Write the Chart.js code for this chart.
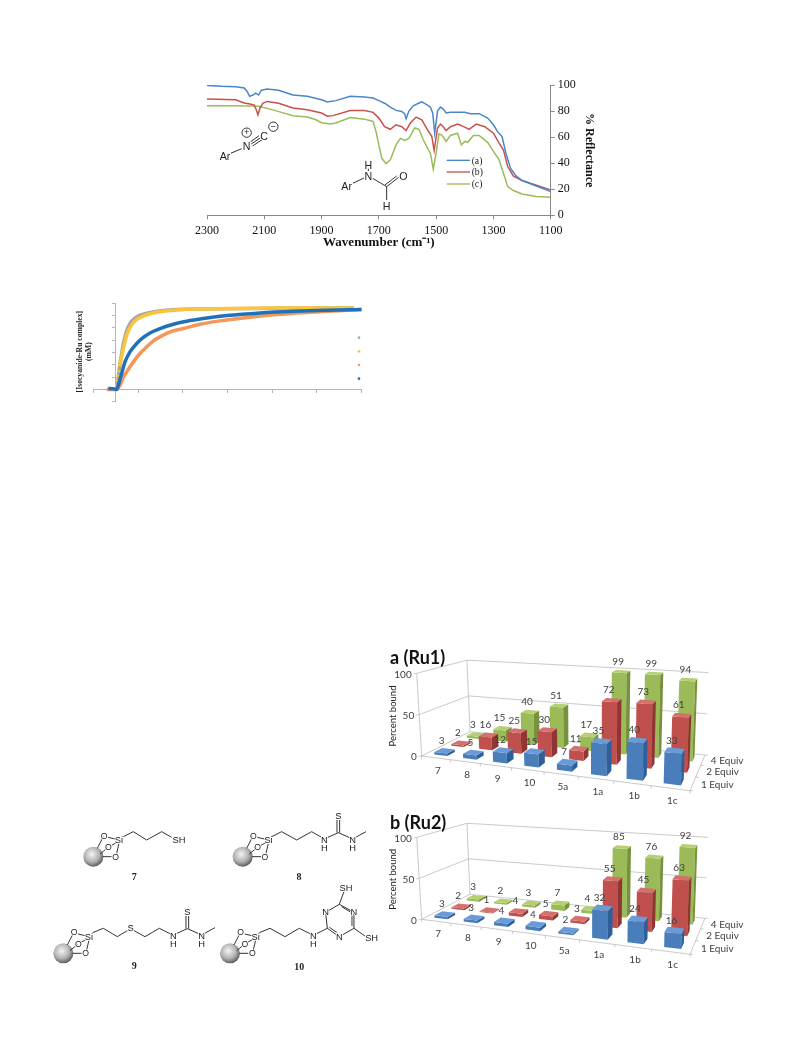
<!DOCTYPE html>
<html lang="en">
<head>
  <meta charset="UTF-8">
  <title>Isocyanide scavenging figures</title>
  <script src="https://cdn.jsdelivr.net/npm/chart.js"></script>
  <style>
    body { margin: 0; background: #fff; }
    #page { position: relative; width: 793px; height: 1057px; overflow: hidden; }
    .box { position: absolute; }
    #art { position: absolute; left: 0; top: 0; pointer-events: none; }
    #art text { font-family: 'Liberation Sans', sans-serif; fill: #222; }
  </style>
</head>
<body>
<div id="page">
  <div class="box" style="left:190px;top:70px;width:420px;height:190px"><canvas id="irChart"></canvas></div>
  <div class="box" style="left:85px;top:295px;width:290px;height:115px"><canvas id="kineticsChart"></canvas></div>
  <div class="box" style="left:380px;top:640px;width:400px;height:170px"><canvas id="ru1Chart"></canvas></div>
  <div class="box" style="left:380px;top:805px;width:400px;height:170px"><canvas id="ru2Chart"></canvas></div>
  <svg id="art" width="793" height="1057"></svg>
</div>

<script>
  // IR spectra: [wavenumber, % reflectance]
  const irA = [[2300,99.7],[2250,99],[2200,98.7],[2170,97.7],[2160,95],[2151,91.3],[2140,92.3],[2130,93.8],[2120,92.3],[2110,96],[2090,97],[2050,96],[2000,92.3],[1950,91.3],[1900,88.7],[1880,87],[1850,88],[1800,91.3],[1750,90.8],[1720,90],[1700,88],[1680,86],[1660,83],[1640,80.5],[1620,79.7],[1610,78],[1605,74],[1595,80],[1580,84],[1560,86.2],[1550,87],[1530,84.6],[1520,83],[1512,78.5],[1505,63],[1495,80],[1485,83],[1475,81.5],[1465,78.5],[1450,79],[1400,79],[1380,78],[1350,78],[1320,74.6],[1300,69.5],[1285,64],[1270,60.5],[1255,46.4],[1240,36],[1220,30],[1200,26.7],[1150,22.5],[1100,18.2]];
  const irB = [[2300,89.2],[2200,88.7],[2170,86.2],[2150,85.4],[2135,84.6],[2128,81],[2122,77.2],[2115,82.3],[2105,86],[2090,87.4],[2050,86],[2000,82.3],[1950,81],[1900,78.5],[1880,76],[1860,76.5],[1800,80.5],[1750,80.5],[1720,79],[1700,74.6],[1680,68],[1660,66],[1640,69.5],[1620,68],[1605,65],[1590,70.8],[1570,75.4],[1550,73.3],[1530,65.6],[1515,60.5],[1507,49.7],[1495,67],[1485,70],[1475,68],[1465,65],[1450,68],[1425,70],[1400,67.7],[1385,66],[1360,70],[1330,68],[1300,63],[1280,55.4],[1265,50],[1250,37.4],[1230,30],[1200,26.7],[1150,23],[1100,19.5]];
  const irC = [[2300,84],[2200,84],[2120,83.6],[2080,81.5],[2040,79],[2000,76.4],[1950,75.4],[1920,73.3],[1900,71],[1870,70],[1850,70.8],[1800,75],[1750,73.8],[1720,72],[1710,64.4],[1700,54],[1690,43.8],[1675,39.7],[1660,42.5],[1640,54],[1625,59],[1610,57.4],[1595,59],[1575,67],[1560,66],[1545,58],[1530,51.5],[1520,47.7],[1510,35.4],[1500,47.7],[1490,62.5],[1480,61.5],[1465,56.7],[1450,61.3],[1425,63],[1412,54],[1400,56.7],[1390,56],[1370,61.3],[1350,61.3],[1320,56],[1300,49],[1280,42.5],[1265,32.3],[1250,22],[1230,19],[1200,16.4],[1150,14.4],[1100,13.8]];

  // kinetics traces: [time, concentration]
  const traceBlue = [[-164,0.08],[-52,0.05],[22,0],[60,0.35],[134,1.3],[209,2.24],[320,3.05],[470,3.73],[619,4.22],[768,4.59],[992,4.95],[1290,5.3],[1589,5.54],[1962,5.76],[2484,6],[3230,6.22],[3976,6.35],[4722,6.43],[5500,6.49]];
  const traceOrange = [[-200,0],[22,0],[97,0.35],[171,0.97],[246,1.43],[395,2.24],[544,2.92],[694,3.46],[843,3.95],[992,4.27],[1216,4.68],[1514,4.95],[1887,5.3],[2335,5.57],[2857,5.81],[3603,6.08],[4349,6.27],[4871,6.38],[5500,6.49]];
  const traceYellow = [[22,0.22],[60,1.08],[82,1.6],[97,1.97],[171,3.32],[246,4.41],[320,5.03],[395,5.43],[507,5.78],[619,5.97],[806,6.19],[992,6.32],[1365,6.46],[1738,6.54],[2484,6.57],[3603,6.62],[5319,6.62]];
  const traceGrey = [[22,0],[60,1.03],[97,2.1],[134,2.92],[171,3.73],[209,4.27],[246,4.76],[320,5.35],[395,5.68],[507,5.97],[619,6.11],[806,6.27],[992,6.38],[1365,6.49],[1738,6.54],[2484,6.55],[3603,6.59],[5319,6.62]];

  // percent bound bar charts
  const supports = ['7', '8', '9', '10', '5a', '1a', '1b', '1c'];
  const rowLabels = ['1 Equiv', '2 Equiv', '4 Equiv'];
  const ru1Equiv1 = [3, 5, 12, 15, 7, 35, 40, 33];
  const ru1Equiv2 = [2, 16, 25, 30, 11, 72, 73, 61];
  const ru1Equiv4 = [3, 15, 40, 51, 17, 99, 99, 94];
  const ru2Equiv1 = [3, 3, 4, 4, 2, 32, 24, 16];
  const ru2Equiv2 = [2, 1, 4, 5, 3, 55, 45, 63];
  const ru2Equiv4 = [3, 2, 3, 7, 4, 85, 76, 92];
  const percentTicks = [0, 50, 100];

  const barFont = "Lato, 'Open Sans', sans-serif";
  const serif = "'Liberation Serif', serif";
  const faces = [
    { front: '#4a7ebb', top: '#6b9bd6', side: '#2f5f99' },
    { front: '#c0504d', top: '#d4716e', side: '#8f3533' },
    { front: '#9bbb59', top: '#b4d073', side: '#76923c' }
  ];

  // fixed plot box helper, so the axes land where they do in the figure
  function fitX(h) { return s => { s.height = h; }; }
  function fitY(w) { return s => { s.width = w; }; }

  new Chart(document.getElementById('irChart'), {
    type: 'line',
    data: {
      datasets: [
        { label: '(a)', data: irA.map(p => ({ x: p[0], y: p[1] })), borderColor: '#4a86c8' },
        { label: '(b)', data: irB.map(p => ({ x: p[0], y: p[1] })), borderColor: '#c8504d' },
        { label: '(c)', data: irC.map(p => ({ x: p[0], y: p[1] })), borderColor: '#9bbb59' }
      ]
    },
    options: {
      responsive: true,
      maintainAspectRatio: false,
      animation: false,
      layout: { padding: { left: 17, top: 15, right: 14, bottom: 10 } },
      elements: { line: { borderWidth: 1.5, tension: 0 }, point: { radius: 0 } },
      plugins: { legend: { display: false }, tooltip: { enabled: false } },
      scales: {
        x: {
          type: 'linear', reverse: true, min: 1100, max: 2300,
          afterFit: fitX(34.7),
          border: { color: '#888' },
          grid: { drawOnChartArea: false, color: '#888', tickLength: 4 },
          ticks: { stepSize: 200, maxRotation: 0, color: '#111', padding: 4, font: { family: serif, size: 12 }, callback: v => String(v) },
          title: { display: true, text: 'Wavenumber (cm⁻¹)', color: '#111', padding: 0, font: { family: serif, size: 13, weight: 'bold' } }
        },
        y: {
          position: 'right', min: 0, max: 100,
          afterFit: fitY(45.3),
          border: { color: '#888' },
          grid: { drawOnChartArea: false, color: '#888', tickLength: 4 },
          ticks: { stepSize: 20, color: '#111', padding: 3, font: { family: serif, size: 12 } },
          title: { display: true, text: '% Reflectance', color: '#111', padding: 0, font: { family: serif, size: 12, weight: 'bold' } }
        }
      }
    }
  });

  new Chart(document.getElementById('kineticsChart'), {
    type: 'scatter',
    data: {
      datasets: [
        { data: traceBlue, borderColor: '#1f72b8' },
        { data: traceOrange, borderColor: '#f4975a' },
        { data: traceYellow, borderColor: '#fbc43a', segment: { borderDash: c => (c.p1DataIndex < 4 ? [2, 3] : undefined) } },
        { data: traceGrey, borderColor: '#a5a5a5' }
      ].map(d => ({ ...d, data: d.data.map(p => ({ x: p[0], y: p[1] })), showLine: true, borderWidth: 3.5, pointRadius: 0, cubicInterpolationMode: 'monotone' }))
    },
    options: {
      responsive: true,
      maintainAspectRatio: false,
      animation: false,
      layout: { padding: { left: 8.3, right: 13.3, top: 8.3, bottom: 8.3 } },
      plugins: { legend: { display: false }, tooltip: { enabled: false } },
      scales: {
        x: {
          type: 'linear', min: -500, max: 5500, position: { y: 0 },
          border: { color: '#b5b5b5' },
          grid: { drawOnChartArea: false, color: '#b5b5b5', tickLength: 3 },
          ticks: { stepSize: 1000, display: false }
        },
        y: {
          type: 'linear', min: -1, max: 7, position: { x: 0 },
          border: { color: '#b5b5b5' },
          grid: { drawOnChartArea: false, color: '#b5b5b5', tickLength: 3 },
          ticks: { stepSize: 1, display: false }
        }
      }
    }
  });

  // square to quad homography for the chart floor, u along supports, v into the page
  function makeProjector(frame) {
    const [p0, p1, p2, p3] = [frame.frontLeft, frame.frontRight, frame.backRight, frame.backLeft];
    const dx1 = p1[0] - p2[0], dx2 = p3[0] - p2[0], sx = p0[0] - p1[0] + p2[0] - p3[0];
    const dy1 = p1[1] - p2[1], dy2 = p3[1] - p2[1], sy = p0[1] - p1[1] + p2[1] - p3[1];
    const den = dx1 * dy2 - dx2 * dy1;
    const g = (sx * dy2 - dx2 * sy) / den;
    const h = (dx1 * sy - sx * dy1) / den;
    const a = p1[0] - p0[0] + g * p1[0], b = p3[0] - p0[0] + h * p3[0];
    const d = p1[1] - p0[1] + g * p1[1], e = p3[1] - p0[1] + h * p3[1];
    return (raw, v, w) => {
      // the figure's categories are spaced a bit more evenly than true perspective
      const u = raw + 0.07 * raw * (1 - raw);
      const W = g * u + h * v + 1;
      const x = (a * u + b * v + p0[0]) / W;
      const y = (d * u + e * v + p0[1]) / W;
      const rise = frame.height * w / (0.7 * g * u + h * v + 1);
      return [x + (x - frame.vanishX) * rise / 2800, y - rise];
    };
  }

  function poly(ctx, pts, fill) {
    ctx.beginPath();
    pts.forEach((p, i) => (i ? ctx.lineTo(p[0], p[1]) : ctx.moveTo(p[0], p[1])));
    ctx.closePath();
    ctx.fillStyle = fill;
    ctx.fill();
  }

  function seg(ctx, a, b) {
    ctx.beginPath();
    ctx.moveTo(a[0], a[1]);
    ctx.lineTo(b[0], b[1]);
    ctx.stroke();
  }

  // Chart.js has no 3D bars: the library lays them out, this plugin projects and paints them
  const bars3d = {
    id: 'bars3d',
    beforeDatasetsDraw(chart, args, opts) {
      const { ctx, chartArea: area, scales } = chart;
      const P = makeProjector(opts.frame);
      const toW = v => (scales.y.bottom - scales.y.getPixelForValue(v)) / (scales.y.bottom - scales.y.top);
      ctx.save();

      // walls and floor
      ctx.strokeStyle = '#bdbdbd';
      ctx.lineWidth = 0.8;
      scales.y.ticks.forEach(t => {
        const w = toW(t.value);
        if (w > 0) { seg(ctx, P(0, 0, w), P(0, 1, w)); seg(ctx, P(0, 1, w), P(1, 1, w)); }
        const fl = P(0, 0, w);
        seg(ctx, fl, [fl[0] - 3, fl[1] + 0.6]);
        ctx.fillStyle = '#404040';
        ctx.font = '10px ' + barFont;
        ctx.textAlign = 'right';
        ctx.textBaseline = 'middle';
        ctx.fillText(t.value, fl[0] - 5, fl[1] + 1);
      });
      seg(ctx, P(0, 0, 0), P(0, 0, 1));
      seg(ctx, P(0, 1, 0), P(0, 1, 1));
      seg(ctx, P(0, 0, 0), P(1, 0, 0));
      seg(ctx, P(0, 0, 0), P(0, 1, 0));
      seg(ctx, P(1, 0, 0), P(1, 1, 0));
      seg(ctx, P(0, 1, 0), P(1, 1, 0));

      // support labels and ticks along the front edge
      const cats = chart.data.labels;
      ctx.fillStyle = '#404040';
      ctx.textAlign = 'center';
      cats.forEach((c, i) => {
        const p = P((i + 0.5) / cats.length, 0, 0);
        ctx.fillText(c, p[0] + 2, p[1] + 13);
      });
      for (let i = 0; i <= cats.length; i++) {
        const p = P(i / cats.length, 0, 0);
        seg(ctx, p, [p[0], p[1] + 3]);
      }

      // equivalents along the right edge
      const rows = chart.data.datasets.length;
      ctx.textAlign = 'left';
      chart.data.datasets.forEach((ds, r) => {
        const p = P(1, (r + 0.5) / rows, 0);
        ctx.fillText(ds.label, p[0] + 8, p[1] + 1);
      });
      for (let r = 0; r <= rows; r++) {
        const p = P(1, r / rows, 0);
        seg(ctx, p, [p[0] + 3, p[1]]);
      }

      // boxes back to front, values on top afterwards
      const depth = 0.45;
      const labels = [];
      for (let r = rows - 1; r >= 0; r--) {
        const meta = chart.getDatasetMeta(r);
        const face = faces[r];
        meta.data.forEach(el => {
          const u0 = (el.x - el.width / 2 - area.left) / area.width;
          const u1 = (el.x + el.width / 2 - area.left) / area.width;
          const v0 = (r + 0.5 - depth / 2) / rows;
          const v1 = (r + 0.5 + depth / 2) / rows;
          const w = (el.base - el.y) / (scales.y.bottom - scales.y.top);
          poly(ctx, [P(u0, v0, 0), P(u1, v0, 0), P(u1, v0, w), P(u0, v0, w)], face.front);
          poly(ctx, [P(u1, v0, 0), P(u1, v1, 0), P(u1, v1, w), P(u1, v0, w)], face.side);
          poly(ctx, [P(u0, v0, w), P(u1, v0, w), P(u1, v1, w), P(u0, v1, w)], face.top);
          labels.push({ at: P((u0 + u1) / 2, (v0 + v1) / 2, w), i: meta.data.indexOf(el), r });
        });
      }
      ctx.fillStyle = '#404040';
      ctx.textAlign = 'center';
      labels.forEach(l => ctx.fillText(chart.data.datasets[l.r].data[l.i], l.at[0] - 3, l.at[1] - 10));

      // panel title and value axis title
      ctx.textAlign = 'left';
      ctx.font = 'bold 18px ' + barFont;
      ctx.fillStyle = '#111';
      ctx.fillText(opts.title, 10, 18);
      ctx.translate(12.7, opts.frame.frontLeft[1] - 40);
      ctx.rotate(-Math.PI / 2);
      ctx.textAlign = 'center';
      ctx.font = '9.5px ' + barFont;
      ctx.fillStyle = '#222';
      ctx.fillText('Percent bound', 0, 0);
      ctx.restore();
      return false;
    }
  };

  function makeBars(id, title, frame, series) {
    new Chart(document.getElementById(id), {
      type: 'bar',
      plugins: [bars3d],
      data: {
        labels: supports,
        datasets: series.map((data, r) => ({ label: rowLabels[r], data }))
      },
      options: {
        responsive: true,
        maintainAspectRatio: false,
        animation: false,
        grouped: false,
        barPercentage: 0.5,
        categoryPercentage: 0.9,
        plugins: { legend: { display: false }, tooltip: { enabled: false }, bars3d: { title, frame } },
        scales: {
          x: { display: false },
          y: { display: false, min: percentTicks[0], max: percentTicks[2], afterBuildTicks: s => { s.ticks = percentTicks.map(value => ({ value })); } }
        }
      }
    });
  }

  makeBars('ru1Chart', 'a (Ru1)', { frontLeft: [41.7, 116], frontRight: [310, 150.7], backRight: [325, 115], backLeft: [90, 91.7], height: 82.7, vanishX: 211 }, [ru1Equiv1, ru1Equiv2, ru1Equiv4]);
  makeBars('ru2Chart', 'b (Ru2)', { frontLeft: [41.7, 114.3], frontRight: [310, 149.3], backRight: [325, 113.3], backLeft: [90, 89.3], height: 82, vanishX: 211 }, [ru2Equiv1, ru2Equiv2, ru2Equiv4]);

  // structures and small keys, coordinates are in 3x crop units
  function bond(x1, y1, x2, y2, extra) {
    return `<line x1="${x1}" y1="${y1}" x2="${x2}" y2="${y2}" stroke="${(extra && extra.c) || '#333'}" stroke-width="${(extra && extra.w) || 3}"/>`;
  }
  function atom(t, x, y, size, more) {
    return `<text x="${x}" y="${y}" font-size="${size || 30}" text-anchor="middle" dominant-baseline="central" paint-order="stroke" stroke="#fff" stroke-width="5" ${more || ''}>${t}</text>`;
  }
  function chain(pts) {
    return pts.slice(1).map((p, i) => bond(pts[i][0], pts[i][1], p[0], p[1])).join('');
  }
  function sphereHead(cx, cy) {
    return `<circle cx="${cx}" cy="${cy}" r="30" fill="url(#ball)"/>` +
      bond(cx + 12, cy - 25, cx + 30, cy - 60) + bond(cx + 20, cy - 8, cx + 42, cy - 26) + bond(cx + 28, cy, cx + 55, cy) +
      bond(cx + 44, cy - 58, cx + 70, cy - 52) + bond(cx + 52, cy - 32, cx + 72, cy - 44) + bond(cx + 70, cy - 10, cx + 77, cy - 40) +
      atom('O', cx + 32, cy - 63, 26) + atom('O', cx + 45, cy - 28, 26) + atom('O', cx + 67, cy, 26) + atom('Si', cx + 77, cy - 50, 28);
  }
  function thiourea(x, y) {
    return chain([[x, y - 3], [x + 42, y - 22], [x + 85, y - 3], [x + 125, y - 25]]) +
      bond(x + 38, y - 22, x + 38, y - 60) + bond(x + 46, y - 22, x + 46, y - 60) +
      atom('N', x, y, 28) + atom('H', x, y + 24, 28) + atom('S', x + 42, y - 72, 28) + atom('N', x + 85, y, 28) + atom('H', x + 85, y + 24, 28);
  }
  const label = (t, x, y) => `<text x="${x}" y="${y}" font-size="30" font-weight="bold" text-anchor="middle" dominant-baseline="central" style="font-family:'Liberation Serif',serif">${t}</text>`;

  const structures =
    sphereHead(160, 140) + chain([[250, 80], [280, 65], [320, 90], [365, 65], [395, 82]]) + atom('SH', 417, 90, 28) + label('7', 283, 200) +
    sphereHead(608, 140) + chain([[695, 80], [725, 65], [770, 90], [815, 65], [845, 82]]) + thiourea(853, 90) + label('8', 777, 200) +
    sphereHead(70, 430) + chain([[158, 368], [190, 355], [232, 380], [262, 362]]) + chain([[282, 362], [315, 380], [358, 355], [392, 372]]) + atom('S', 272, 355, 28) + thiourea(400, 378) + label('9', 283, 467) +
    sphereHead(570, 430) + chain([[658, 368], [690, 355], [735, 380], [778, 355], [812, 372]]) +
    chain([[828, 372], [862, 355], [857, 307], [898, 283], [942, 307], [942, 355], [898, 380], [862, 355]]) +
    bond(868, 352, 892, 368) + bond(905, 290, 935, 308) + bond(936, 315, 936, 348) +
    bond(898, 283, 912, 245) + bond(942, 355, 975, 378) +
    atom('N', 820, 378, 28) + atom('H', 820, 403, 28) + atom('N', 857, 307, 28) + atom('N', 942, 307, 28) + atom('N', 898, 380, 28) +
    atom('SH', 918, 233, 28) + atom('SH', 995, 385, 28) + label('10', 778, 470);

  const irKey =
    [['#4a86c8', 271, '(a)'], ['#c8504d', 306, '(b)'], ['#9bbb59', 342, '(c)']].map(k =>
      bond(770, k[1], 840, k[1], { c: k[0], w: 4 }) +
      `<text x="845" y="${k[1]}" font-size="29" dominant-baseline="central" style="font-family:'Liberation Serif',serif">${k[2]}</text>`).join('');

  const irMolecules =
    bond(122, 250, 155, 236) + bond(184, 222, 212, 203) + bond(181, 216, 207, 197) + bond(188, 228, 216, 209) +
    atom('Ar', 105, 258, 32) + atom('N', 170, 228, 32) + atom('C', 222, 197, 32) +
    atom('+', 170, 187, 28) + '<circle cx="170" cy="188" r="14" fill="none" stroke="#333" stroke-width="3"/>' +
    atom('−', 250, 170, 28) + '<circle cx="250" cy="170" r="14" fill="none" stroke="#333" stroke-width="3"/>' +
    bond(488, 340, 522, 324) + bond(535, 303, 535, 296) + bond(548, 325, 590, 350) + bond(590, 350, 626, 322) + bond(585, 345, 620, 318) + bond(590, 350, 590, 390) +
    atom('Ar', 470, 348, 32) + atom('N', 535, 317, 32) + atom('H', 535, 285, 32) + atom('O', 640, 317, 32) + atom('H', 590, 408, 32);

  const kineticsKey =
    [['#a5a5a5', 143], ['#fbc43a', 184], ['#f4975a', 225], ['#1f72b8', 266]].map(k =>
      `<circle cx="897" cy="${k[1]}" r="4" fill="${k[0]}"/>`).join('') +
    `<text transform="translate(58,185) rotate(-90)" font-size="23" font-weight="bold" text-anchor="middle" dominant-baseline="central" style="font-family:'Liberation Serif',serif">[Isocyanide-Ru complex]</text>` +
    `<text transform="translate(85,185) rotate(-90)" font-size="23" font-weight="bold" text-anchor="middle" dominant-baseline="central" style="font-family:'Liberation Serif',serif">(mM)</text>`;

  document.getElementById('art').innerHTML =
    `<defs><radialGradient id="ball" cx="0.42" cy="0.38" r="0.65"><stop offset="0" stop-color="#f4f4f4"/><stop offset="0.6" stop-color="#b0b0b0"/><stop offset="1" stop-color="#555"/></radialGradient></defs>` +
    `<g transform="translate(40,810) scale(0.3333)">${structures}</g>` +
    `<g transform="translate(190,70) scale(0.3333)">${irMolecules}${irKey}</g>` +
    `<g transform="translate(60,290) scale(0.3333)">${kineticsKey}</g>`;
</script>
</body>
</html>
